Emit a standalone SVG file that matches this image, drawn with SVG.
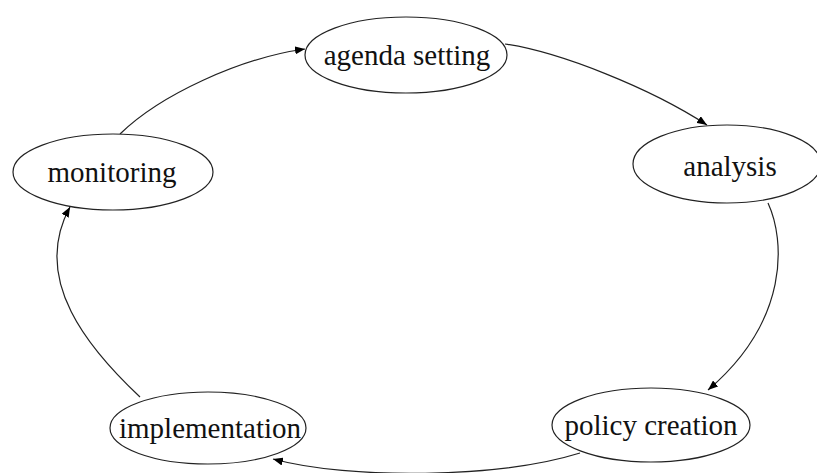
<svg xmlns="http://www.w3.org/2000/svg" width="817" height="473" viewBox="0 0 817 473">
<defs>
<marker id="arr" markerWidth="10" markerHeight="8" refX="10" refY="4" orient="auto" markerUnits="userSpaceOnUse">
<path d="M0,0 L10,4 L0,8 Z" fill="#000"/>
</marker>
<style>
.n ellipse{fill:#fff;stroke:#222;stroke-width:1.2}
.n text{font-family:"Liberation Serif","Times New Roman",serif;font-size:29px;fill:#111;text-anchor:middle}
.e path{fill:none;stroke:#222;stroke-width:1.2;marker-end:url(#arr)}
</style>
</defs>
<rect width="817" height="473" fill="#fff"/>
<g id="edges" class="e">
<path d="M120,134 C160,95 240,58 305,49"/>
<path d="M505,44 C560,52 650,88 707,125"/>
<path d="M768,203 C785,240 790,320 708,390"/>
<path d="M580,453 C500,478 350,480 273,459"/>
<path d="M140,397 C90,350 30,280 70,207"/>
</g>
<g id="agenda" class="n"><ellipse cx="406" cy="55" rx="101" ry="38"/><text x="407" y="65">agenda setting</text></g>
<g id="analysis" class="n"><ellipse cx="727" cy="164" rx="94" ry="39"/><text x="730" y="176">analysis</text></g>
<g id="policy" class="n"><ellipse cx="651" cy="425" rx="99" ry="37"/><text x="651" y="435">policy creation</text></g>
<g id="implementation" class="n"><ellipse cx="208" cy="428" rx="98" ry="36"/><text x="210" y="438">implementation</text></g>
<g id="monitoring" class="n"><ellipse cx="113" cy="172" rx="100" ry="38"/><text x="112" y="182">monitoring</text></g>
</svg>
